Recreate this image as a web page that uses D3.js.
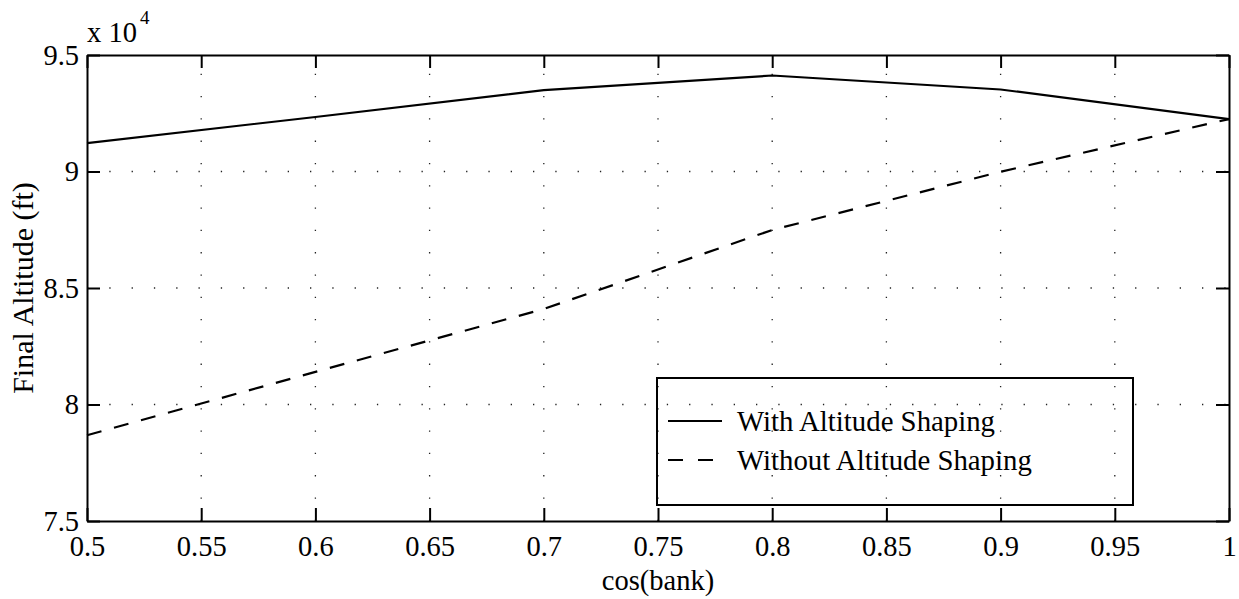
<!DOCTYPE html>
<html>
<head>
<meta charset="utf-8">
<script src="https://cdn.jsdelivr.net/npm/d3@7"></script>
<style>
  body { margin: 0; background: white; }
  svg { display: block; font-family: "Liberation Serif", "Times New Roman", serif; }
</style>
</head>
<body>
<script>
const width = 1239;
const height = 599;

// values (altitude in ft)
const cosBank = [0.5, 0.6, 0.7, 0.8, 0.9, 1.0];
const withShaping = [91220, 92340, 93490, 94120, 93520, 92250];
const withoutShaping = [78680, 81400, 84100, 87490, 89990, 92250];

const xTicks = [0.5, 0.55, 0.6, 0.65, 0.7, 0.75, 0.8, 0.85, 0.9, 0.95, 1];
const yTicks = [75000, 80000, 85000, 90000, 95000];
const yTickLabels = ["7.5", "8", "8.5", "9", "9.5"];
const seriesNames = ["With Altitude Shaping", "Without Altitude Shaping"];

const plotLeft = 87, plotRight = 1229, plotTop = 55, plotBottom = 521;
const fontSize = 28.5;

const x = d3.scaleLinear().domain([0.5, 1]).range([plotLeft, plotRight]);
const y = d3.scaleLinear().domain([75000, 95000]).range([plotBottom, plotTop]);

const svg = d3.select("body")
  .append("svg")
  .attr("width", width)
  .attr("height", height);

// dotted grid
const grid = svg.append("g")
  .attr("stroke", "#222")
  .attr("stroke-width", 1.3)
  .attr("stroke-dasharray", "1.3,21");

grid.selectAll("line.vg")
  .data(xTicks.slice(1, -1))
  .enter()
  .append("line")
  .attr("x1", d => x(d)).attr("x2", d => x(d))
  .attr("y1", plotBottom).attr("y2", plotTop);

grid.selectAll("line.hg")
  .data(yTicks.slice(1, -1))
  .enter()
  .append("line")
  .attr("x1", plotLeft).attr("x2", plotRight)
  .attr("y1", d => y(d)).attr("y2", d => y(d));

// axes, ticks pointing inwards on all four sides
const tickLen = 13;

const styleAxis = g => {
  g.select(".domain").attr("stroke", "black").attr("stroke-width", 2);
  g.selectAll(".tick line").attr("stroke", "black").attr("stroke-width", 2);
  g.selectAll(".tick text")
    .attr("fill", "black")
    .style("font-family", "'Liberation Serif', 'Times New Roman', serif")
    .style("font-size", fontSize + "px");
};

svg.append("g")
  .attr("transform", `translate(0,${plotBottom})`)
  .call(d3.axisBottom(x).tickValues(xTicks).tickFormat(d => String(d))
    .tickSizeInner(-tickLen).tickSizeOuter(0).tickPadding(15))
  .call(styleAxis);

svg.append("g")
  .attr("transform", `translate(0,${plotTop})`)
  .call(d3.axisTop(x).tickValues(xTicks).tickFormat("")
    .tickSizeInner(-tickLen).tickSizeOuter(0))
  .call(styleAxis);

svg.append("g")
  .attr("transform", `translate(${plotLeft},0)`)
  .call(d3.axisLeft(y).tickValues(yTicks).tickFormat((d, i) => yTickLabels[i])
    .tickSizeInner(-tickLen).tickSizeOuter(0).tickPadding(8))
  .call(styleAxis);

svg.append("g")
  .attr("transform", `translate(${plotRight},0)`)
  .call(d3.axisRight(y).tickValues(yTicks).tickFormat("")
    .tickSizeInner(-tickLen).tickSizeOuter(0))
  .call(styleAxis);

// exponent label
const expo = svg.append("text")
  .attr("x", plotLeft)
  .attr("y", 42)
  .style("font-size", fontSize + "px")
  .text("x 10");
expo.append("tspan")
  .attr("dx", 3)
  .attr("dy", -18)
  .style("font-size", "19px")
  .text("4");

// axis titles
svg.append("text")
  .attr("x", (plotLeft + plotRight) / 2)
  .attr("y", 590)
  .attr("text-anchor", "middle")
  .style("font-size", fontSize + "px")
  .text("cos(bank)");

svg.append("text")
  .attr("transform", `translate(33,${(plotTop + plotBottom) / 2}) rotate(-90)`)
  .attr("text-anchor", "middle")
  .style("font-size", "30px")
  .text("Final Altitude (ft)");

// lines
const line = d3.line()
  .x(d => x(d[0]))
  .y(d => y(d[1]));

svg.append("path")
  .datum(cosBank.map((c, i) => [c, withShaping[i]]))
  .attr("d", line)
  .attr("fill", "none")
  .attr("stroke", "black")
  .attr("stroke-width", 2.2);

svg.append("path")
  .datum(cosBank.map((c, i) => [c, withoutShaping[i]]))
  .attr("d", line)
  .attr("fill", "none")
  .attr("stroke", "black")
  .attr("stroke-width", 2.2)
  .attr("stroke-dasharray", "15,13");

// legend
const legend = svg.append("g");
legend.append("rect")
  .attr("x", 657).attr("y", 378)
  .attr("width", 476).attr("height", 127)
  .attr("fill", "none")
  .attr("stroke", "black")
  .attr("stroke-width", 2);

legend.selectAll("line.key")
  .data(seriesNames)
  .enter()
  .append("line")
  .attr("x1", 668).attr("x2", 722)
  .attr("y1", (d, i) => 421 + i * 39)
  .attr("y2", (d, i) => 421 + i * 39)
  .attr("stroke", "black")
  .attr("stroke-width", 2)
  .attr("stroke-dasharray", (d, i) => i == 0 ? null : "15,15");

legend.selectAll("text.key")
  .data(seriesNames)
  .enter()
  .append("text")
  .attr("x", 737)
  .attr("y", (d, i) => 431 + i * 39)
  .style("font-size", "28.8px")
  .text(d => d);
</script>
</body>
</html>
